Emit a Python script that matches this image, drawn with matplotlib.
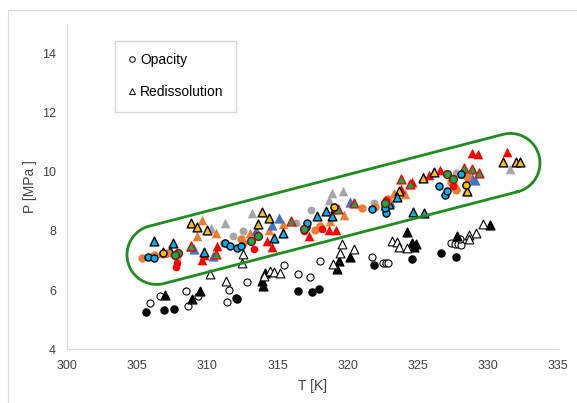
import numpy as np
import matplotlib.pyplot as plt
from matplotlib.lines import Line2D
from matplotlib.patches import Rectangle

plt.rcParams["font.family"] = ["Liberation Sans", "DejaVu Sans"]

# ===== data: T [K], P [MPa] =====
# black / white points (outside the ring)
opac_filled_T = [305.61, 306.92, 307.63, 312.01, 312.13, 316.46, 317.43, 317.95,
                 321.85, 324.56, 326.65, 327.75]
opac_filled_P = [5.25, 5.32, 5.36, 5.74, 5.69, 5.98, 5.95, 6.04,
                 6.86, 7.05, 7.26, 7.11]
opac_open_T = [305.92, 306.61, 308.44, 308.63, 309.34, 311.53, 311.41, 312.84,
               315.43, 318.05, 316.46, 317.33, 321.75, 322.55, 322.75, 322.85,
               327.37, 327.65, 327.89, 328.06, 327.99]
opac_open_P = [5.55, 5.81, 5.97, 5.46, 5.81, 6.00, 5.60, 6.27,
               6.85, 6.98, 6.54, 6.43, 7.13, 6.93, 6.90, 6.92,
               7.59, 7.55, 7.55, 7.51, 7.72]
redis_filled_T = [306.97, 308.92, 309.44, 314.10, 313.91, 313.96, 324.25, 320.16,
                  319.36, 319.26, 324.59, 324.87, 324.75, 327.77, 330.15]
redis_filled_P = [5.83, 5.70, 5.98, 6.57, 6.30, 6.15, 7.95, 7.11,
                  6.98, 6.70, 7.58, 7.56, 7.47, 7.84, 8.19]
redis_open_T = [312.53, 312.49, 310.16, 311.32, 314.46, 314.74, 315.17, 314.03,
                319.57, 319.47, 320.45, 318.93, 323.18, 323.54, 323.66, 324.25,
                328.67, 328.65, 329.15, 329.65]
redis_open_P = [7.21, 6.93, 6.54, 6.32, 6.66, 6.62, 6.59, 6.49,
                7.55, 7.26, 7.38, 6.88, 7.65, 7.61, 7.47, 7.42,
                7.85, 7.74, 7.94, 8.22]

# coloured points (inside the ring)
orange_c_T = [305.30, 306.22, 306.75, 307.14, 311.21, 312.39, 312.52, 317.64, 318.04,
              321.05, 321.97, 322.89, 327.36, 327.75, 328.41, 328.54]
orange_c_P = [7.10, 7.19, 7.22, 7.24, 7.60, 7.72, 7.58, 8.03, 8.17,
              8.76, 8.79, 9.07, 9.66, 9.38, 9.55, 9.83]
orange_t_T = [309.63, 309.24, 310.61, 313.05, 314.36, 315.41, 318.77, 319.74,
              322.63, 323.29, 324.07, 328.41, 327.75]
orange_t_P = [8.35, 7.81, 7.94, 7.92, 8.03, 8.23, 8.34, 8.54,
              8.99, 9.27, 9.25, 9.33, 9.50]
red_c_T = [307.74, 307.85, 313.31, 316.85, 318.17, 322.76, 327.49]
red_c_P = [6.79, 6.91, 7.40, 7.98, 8.05, 9.05, 9.52]
red_t_T = [309.63, 309.76, 310.69, 314.57, 314.23, 317.25, 318.69, 319.14, 324.60,
           325.78, 326.57, 328.88, 329.27, 331.37, 323.81]
red_t_P = [7.02, 7.19, 7.49, 7.47, 7.67, 7.81, 8.03, 8.03, 9.66,
           9.89, 10.06, 10.62, 10.59, 10.68, 9.42]
gray_c_T = [307.80, 312.52, 311.79, 317.38, 316.33, 327.75, 321.90]
gray_c_P = [7.07, 8.00, 7.81, 8.71, 8.28, 9.95, 8.93]
gray_t_T = [310.24, 311.26, 313.21, 318.64, 318.88, 319.66, 331.56, 329.33]
gray_t_P = [8.09, 8.26, 8.59, 9.05, 9.27, 9.35, 10.08, 10.00]
blue_t_T = [308.85, 309.04, 310.42, 313.49, 314.62, 315.07, 320.14, 322.63, 323.02,
            325.39, 328.88, 329.06]
blue_t_P = [7.49, 7.39, 7.15, 8.03, 8.19, 8.43, 8.97, 8.88, 8.99,
            9.83, 9.78, 9.72]
cyan_t_T = [306.20, 307.53, 307.35, 309.76, 314.75, 315.41, 317.83, 318.43, 318.90,
            324.65, 325.44, 323.55, 328.20, 322.97]
cyan_t_P = [7.66, 7.58, 7.33, 7.30, 7.77, 7.92, 8.50, 8.68, 8.50,
            8.64, 8.59, 9.16, 9.95, 8.91]
gold_t_T = [306.83, 308.80, 309.24, 309.95, 313.57, 313.91, 314.36, 319.09, 326.17,
            325.39, 331.08, 332.00, 332.27, 328.49, 323.68]
gold_t_P = [7.28, 8.26, 8.14, 8.03, 8.22, 8.65, 8.45, 8.76, 10.00,
            9.80, 10.31, 10.32, 10.34, 9.33, 9.35]
green_t_T = [308.85, 310.63, 315.94, 319.30, 320.48, 323.81, 324.47, 328.28, 328.86,
             329.33, 322.76]
green_t_P = [7.49, 7.22, 8.34, 8.73, 8.93, 9.75, 9.57, 10.11, 10.08,
             9.95, 9.05]
cyan_c_T = [305.75, 306.22, 311.26, 311.60, 312.08, 312.39, 317.04, 317.12, 321.76,
            322.76, 322.63, 326.52, 326.96, 327.10, 328.10]
cyan_c_P = [7.13, 7.10, 7.60, 7.50, 7.41, 7.49, 8.14, 8.28, 8.73,
            8.59, 8.76, 9.50, 9.21, 9.36, 9.92]
green_c_T = [307.93, 307.67, 313.13, 313.57, 316.85, 322.63, 327.10, 327.49]
green_c_P = [7.24, 7.19, 7.66, 7.83, 8.05, 8.93, 9.92, 9.74]
gold_c_T = [306.80, 319.01, 328.45]
gold_c_P = [7.26, 8.82, 9.55]

# ring around the coloured points: centres of the two round ends, radius in MPa
ring_end_T = [306.37, 331.60]
ring_end_P = [7.19, 10.29]
ring_radius_P = 1.0

x_ticks = [300, 305, 310, 315, 320, 325, 330, 335]
y_ticks = [4, 6, 8, 10, 12, 14]

# ===== figure =====
fig = plt.figure(figsize=(5.77, 4.03), dpi=100)
fig.patches.append(Rectangle((8 / 577, -0.1), 1.2, 1 - 10 / 403 + 0.1,
                             transform=fig.transFigure, fill=False,
                             edgecolor="#d9d9d9", linewidth=0.8))
ax = fig.add_axes([0.1166, 0.1333, 0.8505, 0.8081])
ax.set_xlim(300, 335)
ax.set_ylim(4, 15)

ms_c, ms_t = 26, 40
ax.scatter(opac_filled_T, opac_filled_P, s=ms_c, marker="o", c="black", zorder=3)
ax.scatter(opac_open_T, opac_open_P, s=ms_c, marker="o", facecolors="white",
           edgecolors="black", linewidths=0.8, zorder=3)
ax.scatter(redis_filled_T, redis_filled_P, s=ms_t, marker="^", c="black", zorder=3)
ax.scatter(redis_open_T, redis_open_P, s=ms_t, marker="^", facecolors="white",
           edgecolors="black", linewidths=0.8, zorder=3)

ax.scatter(gray_t_T, gray_t_P, s=ms_t + 8, marker="^", c="#A5A5A5", linewidths=0, zorder=3)
ax.scatter(gray_c_T, gray_c_P, s=ms_c + 6, marker="o", c="#A5A5A5", linewidths=0, zorder=3)
ax.scatter(orange_t_T, orange_t_P, s=ms_t + 8, marker="^", c="#ED7D31", linewidths=0, zorder=3)
ax.scatter(blue_t_T, blue_t_P, s=ms_t + 14, marker="^", c="#4472C4", linewidths=0, zorder=3)
ax.scatter(red_t_T, red_t_P, s=ms_t + 8, marker="^", c="#FF0000", linewidths=0, zorder=3)
ax.scatter(gold_t_T, gold_t_P, s=ms_t, marker="^", facecolors="#FFC000",
           edgecolors="black", linewidths=1.0, zorder=3)
ax.scatter(cyan_t_T, cyan_t_P, s=ms_t, marker="^", facecolors="#00B0F0",
           edgecolors="black", linewidths=1.0, zorder=3)
ax.scatter(green_t_T, green_t_P, s=ms_t, marker="^", facecolors="#00B050",
           edgecolors="#FF0000", linewidths=1.0, zorder=3)
ax.scatter(orange_c_T, orange_c_P, s=ms_c + 10, marker="o", c="#ED7D31", linewidths=0, zorder=3)
ax.scatter(red_c_T, red_c_P, s=ms_c + 4, marker="o", c="#FF0000", linewidths=0, zorder=3)
ax.scatter(cyan_c_T, cyan_c_P, s=ms_c, marker="o", facecolors="#00B0F0",
           edgecolors="black", linewidths=1.0, zorder=3)
ax.scatter(gold_c_T, gold_c_P, s=ms_c, marker="o", facecolors="#FFC000",
           edgecolors="black", linewidths=1.0, zorder=3)
ax.scatter(green_c_T, green_c_P, s=ms_c + 6, marker="o", facecolors="#00B050",
           edgecolors="#A00000", linewidths=1.0, zorder=3)

# stadium shaped ring, built in pixel space so the round ends stay round
p0, p1 = ax.transData.transform(list(zip(ring_end_T, ring_end_P)))
r = ax.transData.transform((300, 4 + ring_radius_P))[1] - ax.transData.transform((300, 4))[1]
d = (p1 - p0) / np.hypot(*(p1 - p0))
ang = np.arctan2(d[1], d[0])
a1 = np.linspace(ang - np.pi / 2, ang + np.pi / 2, 60)
a0 = np.linspace(ang + np.pi / 2, ang + 3 * np.pi / 2, 60)
pts = np.vstack([p1 + r * np.column_stack([np.cos(a1), np.sin(a1)]),
                 p0 + r * np.column_stack([np.cos(a0), np.sin(a0)])])
pts = np.vstack([pts, pts[:1]])
ring = ax.transData.inverted().transform(pts)
ax.plot(ring[:, 0], ring[:, 1], color="#1e8c1e", linewidth=2.0, zorder=4)

# axes styling
for side in ["top", "right"]:
    ax.spines[side].set_visible(False)
for side in ["left", "bottom"]:
    ax.spines[side].set_color("#d9d9d9")
ax.set_xticks(x_ticks)
ax.set_yticks(y_ticks)
ax.tick_params(length=0, labelsize=9, labelcolor="#404040", pad=8)
ax.set_xlabel("T [K]", fontsize=10, color="#404040", labelpad=5)
ax.set_ylabel("P [MPa ]", fontsize=10, color="#404040", labelpad=4)

handles = [Line2D([], [], marker="o", ls="none", mfc="white", mec="black", ms=4, mew=0.7),
           Line2D([], [], marker="^", ls="none", mfc="white", mec="black", ms=5, mew=0.7)]
leg = ax.legend(handles, ["Opacity", "Redissolution"], loc="upper left",
                bbox_to_anchor=(0.097, 0.9475), fontsize=10, frameon=True,
                fancybox=False, edgecolor="#d0d0d0", labelspacing=1.3,
                handlelength=0.6, handletextpad=0.3, borderpad=0.9,
                borderaxespad=0)
leg.get_frame().set_linewidth(1.0)

fig.savefig("out.png", dpi=100)
